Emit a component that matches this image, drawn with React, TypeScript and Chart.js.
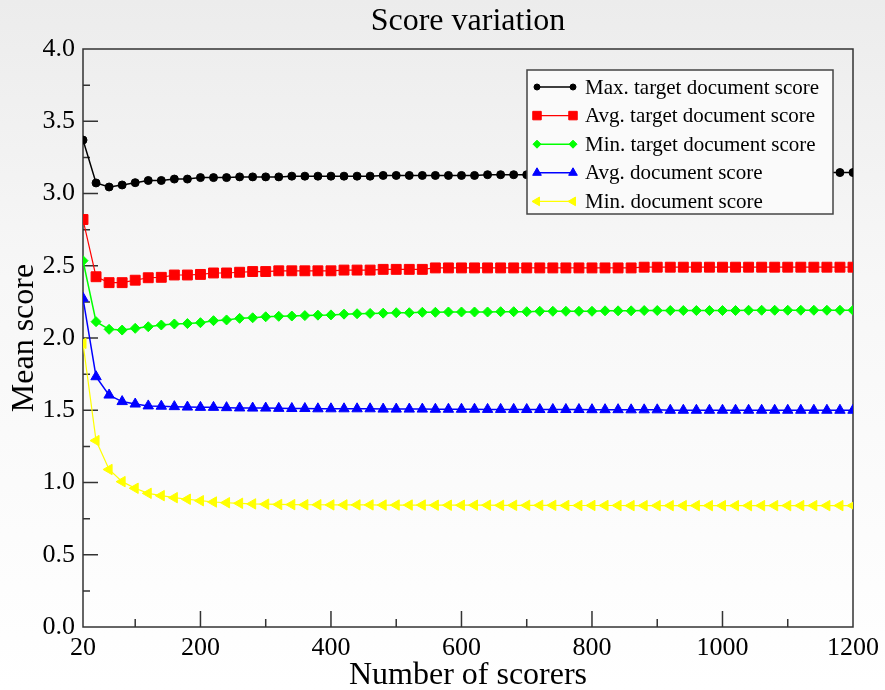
import React, { useEffect, useRef } from "react";
import { Chart, registerables } from "chart.js";
import { drawPoint } from "chart.js/helpers";

Chart.register(...registerables);

const FONT = "'Liberation Serif', 'Times New Roman', serif";

const scorers = [
  20, 40, 60, 80, 100, 120, 140, 160, 180, 200,
  220, 240, 260, 280, 300, 320, 340, 360, 380, 400,
  420, 440, 460, 480, 500, 520, 540, 560, 580, 600,
  620, 640, 660, 680, 700, 720, 740, 760, 780, 800,
  820, 840, 860, 880, 900, 920, 940, 960, 980, 1000,
  1020, 1040, 1060, 1080, 1100, 1120, 1140, 1160, 1180, 1200,
];

const maxTarget = [
  3.37, 3.073, 3.045, 3.059, 3.075, 3.09, 3.09, 3.1, 3.1, 3.11,
  3.11, 3.11, 3.115, 3.115, 3.115, 3.115, 3.12, 3.12, 3.12, 3.12,
  3.12, 3.12, 3.12, 3.125, 3.125, 3.125, 3.125, 3.125, 3.125, 3.125,
  3.125, 3.13, 3.13, 3.13, 3.13, 3.13, 3.13, 3.13, 3.13, 3.13,
  3.13, 3.13, 3.13, 3.135, 3.135, 3.135, 3.135, 3.135, 3.135, 3.135,
  3.14, 3.14, 3.14, 3.14, 3.14, 3.14, 3.14, 3.145, 3.145, 3.145,
];

const avgTarget = [
  2.82, 2.424, 2.383, 2.383, 2.4, 2.417, 2.42, 2.436, 2.436, 2.44,
  2.45, 2.45, 2.455, 2.46, 2.46, 2.465, 2.465, 2.465, 2.465, 2.465,
  2.47, 2.47, 2.47, 2.475, 2.475, 2.475, 2.475, 2.485, 2.485, 2.485,
  2.485, 2.485, 2.485, 2.485, 2.485, 2.485, 2.485, 2.485, 2.485, 2.485,
  2.485, 2.485, 2.485, 2.49, 2.49, 2.49, 2.49, 2.49, 2.49, 2.49,
  2.49, 2.49, 2.49, 2.49, 2.49, 2.49, 2.49, 2.49, 2.49, 2.49,
];

const minTarget = [
  2.535, 2.113, 2.06, 2.055, 2.067, 2.078, 2.09, 2.097, 2.1, 2.106,
  2.12, 2.125, 2.136, 2.14, 2.147, 2.15, 2.152, 2.155, 2.158, 2.16,
  2.165, 2.168, 2.17, 2.172, 2.175, 2.175, 2.178, 2.178, 2.18, 2.18,
  2.18, 2.18, 2.182, 2.182, 2.182, 2.185, 2.185, 2.185, 2.185, 2.185,
  2.188, 2.188, 2.188, 2.19, 2.19, 2.19, 2.19, 2.19, 2.19, 2.19,
  2.19, 2.192, 2.192, 2.192, 2.192, 2.192, 2.192, 2.192, 2.192, 2.192,
];

const avgDocument = [
  2.275, 1.732, 1.605, 1.56, 1.543, 1.53, 1.528, 1.525, 1.522, 1.52,
  1.52, 1.518, 1.516, 1.515, 1.515, 1.513, 1.512, 1.512, 1.51, 1.51,
  1.51, 1.51, 1.51, 1.508, 1.508, 1.508, 1.508, 1.507, 1.507, 1.507,
  1.507, 1.506, 1.506, 1.506, 1.505, 1.505, 1.505, 1.505, 1.505, 1.504,
  1.504, 1.504, 1.503, 1.503, 1.503, 1.5, 1.5, 1.5, 1.5, 1.5,
  1.5, 1.5, 1.5, 1.5, 1.5, 1.5, 1.5, 1.5, 1.5, 1.5,
];

const minDocument = [
  1.963, 1.29, 1.09, 1.006, 0.96, 0.925, 0.909, 0.895, 0.884, 0.874,
  0.865, 0.86, 0.856, 0.852, 0.85, 0.848, 0.847, 0.846, 0.846, 0.845,
  0.845, 0.845, 0.845, 0.844, 0.844, 0.844, 0.844, 0.843, 0.843, 0.843,
  0.843, 0.843, 0.842, 0.842, 0.842, 0.842, 0.842, 0.841, 0.841, 0.841,
  0.841, 0.841, 0.84, 0.84, 0.84, 0.84, 0.84, 0.84, 0.84, 0.84,
  0.84, 0.84, 0.84, 0.84, 0.84, 0.84, 0.84, 0.84, 0.84, 0.84,
];

const seriesLabels = [
  "Max. target document score",
  "Avg. target document score",
  "Min. target document score",
  "Avg. document score",
  "Min. document score",
];

const xMajorTicks = [20, 200, 400, 600, 800, 1000, 1200];
const xMinorTicks = [100, 300, 500, 700, 900, 1100];
const yMajorTicks = [0.5, 1.0, 1.5, 2.0, 2.5, 3.0, 3.5];
const yMinorTicks = [0.25, 0.75, 1.25, 1.75, 2.25, 2.75, 3.25, 3.75];

const styles = [
  { color: "#000000", pointStyle: "circle", radius: 4, rotation: 0, width: 1.5, legendRadius: 3 },
  { color: "#ff0000", pointStyle: "rect", radius: 7, rotation: 0, width: 1.2, legendRadius: 6 },
  { color: "#00ff00", pointStyle: "rectRot", radius: 5, rotation: 0, width: 1.5, legendRadius: 4 },
  { color: "#0000ff", pointStyle: "triangle", radius: 6, rotation: 0, width: 1.5, legendRadius: 5 },
  { color: "#ffff00", pointStyle: "triangle", radius: 6, rotation: -90, width: 1.2, legendRadius: 5 },
];

const frameAndTicks = {
  id: "frameAndTicks",
  beforeDatasetsDraw(chart: any) {
    const { ctx, chartArea: a, scales } = chart;
    const xs = scales.x;
    const ys = scales.y;
    ctx.save();
    ctx.strokeStyle = "#333333";
    ctx.lineWidth = 1.5;
    ctx.beginPath();
    for (const v of xMajorTicks) {
      if (v === xs.min || v === xs.max) continue;
      const px = xs.getPixelForValue(v);
      ctx.moveTo(px, a.bottom);
      ctx.lineTo(px, a.bottom - 16);
    }
    for (const v of xMinorTicks) {
      const px = xs.getPixelForValue(v);
      ctx.moveTo(px, a.bottom);
      ctx.lineTo(px, a.bottom - 8);
    }
    for (const v of yMajorTicks) {
      const py = ys.getPixelForValue(v);
      ctx.moveTo(a.left, py);
      ctx.lineTo(a.left + 15, py);
    }
    for (const v of yMinorTicks) {
      const py = ys.getPixelForValue(v);
      ctx.moveTo(a.left, py);
      ctx.lineTo(a.left + 7, py);
    }
    ctx.stroke();
    ctx.strokeRect(a.left, a.top, a.right - a.left, a.bottom - a.top);
    ctx.restore();
  },
};

const boxLegend = {
  id: "boxLegend",
  afterDatasetsDraw(chart: any) {
    const { ctx, chartArea: a } = chart;
    const boxW = 306;
    const boxH = 144;
    const bx = a.right - 20 - boxW;
    const by = a.top + 21;
    ctx.save();
    ctx.fillStyle = "#fafafa";
    ctx.fillRect(bx, by, boxW, boxH);
    ctx.strokeStyle = "#444444";
    ctx.lineWidth = 1.5;
    ctx.strokeRect(bx, by, boxW, boxH);
    chart.data.datasets.forEach((ds: any, i: number) => {
      const st = styles[i];
      const cy = by + 17 + i * 28.6;
      const x1 = bx + 10;
      const x2 = bx + 46;
      ctx.strokeStyle = st.color;
      ctx.lineWidth = st.width;
      ctx.beginPath();
      ctx.moveTo(x1, cy);
      ctx.lineTo(x2, cy);
      ctx.stroke();
      ctx.fillStyle = st.color;
      ctx.strokeStyle = st.color;
      ctx.lineWidth = 1;
      const opts = { pointStyle: st.pointStyle, radius: st.legendRadius, rotation: st.rotation, borderWidth: 1 };
      drawPoint(ctx, opts as any, x1, cy);
      drawPoint(ctx, opts as any, x2, cy);
      ctx.fillStyle = "#000000";
      ctx.font = `21px ${FONT}`;
      ctx.textBaseline = "middle";
      ctx.textAlign = "left";
      ctx.fillText(ds.label, bx + 58, cy + 1);
    });
    ctx.restore();
  },
};

export default function App() {
  const canvasRef = useRef<HTMLCanvasElement | null>(null);

  useEffect(() => {
    document.body.style.margin = "0";
    const canvas = canvasRef.current;
    if (!canvas) return;
    const allSeries = [maxTarget, avgTarget, minTarget, avgDocument, minDocument];
    const datasets = allSeries.map((vals, i) => {
      const st = styles[i];
      return {
        label: seriesLabels[i],
        data: scorers.map((x, k) => ({ x, y: vals[k] })),
        borderColor: st.color,
        backgroundColor: st.color,
        pointBackgroundColor: st.color,
        pointBorderColor: st.color,
        pointBorderWidth: 1,
        pointStyle: st.pointStyle,
        pointRadius: st.radius,
        pointRotation: st.rotation,
        borderWidth: st.width,
        tension: 0,
        fill: false,
        order: i,
      };
    });
    const chart = new Chart(canvas, {
      type: "line",
      data: { datasets } as any,
      plugins: [frameAndTicks, boxLegend],
      options: {
        responsive: false,
        maintainAspectRatio: false,
        animation: false,
        layout: { padding: { left: 0, right: 32, top: 0, bottom: 0 } },
        plugins: {
          legend: { display: false },
          tooltip: { enabled: false },
          title: {
            display: true,
            fullSize: false,
            text: "Score variation",
            color: "#000000",
            font: { family: FONT, size: 32, weight: "normal" },
            padding: { top: 2, bottom: 8.6 },
          },
        },
        scales: {
          x: {
            type: "linear",
            min: 20,
            max: 1200,
            afterBuildTicks: (s: any) => {
              s.ticks = xMajorTicks.map((v) => ({ value: v }));
            },
            afterFit: (s: any) => {
              s.height = 63;
            },
            ticks: {
              autoSkip: false,
              maxRotation: 0,
              color: "#000000",
              font: { family: FONT, size: 26 },
              padding: 6,
              callback: (v: any) => String(v),
            },
            grid: { display: false, drawTicks: false },
            border: { display: false },
            title: {
              display: true,
              text: "Number of scorers",
              color: "#000000",
              font: { family: FONT, size: 32, lineHeight: 0.9 },
              padding: 0,
            },
          },
          y: {
            type: "linear",
            min: 0,
            max: 4,
            afterFit: (s: any) => {
              s.width = 83;
            },
            ticks: {
              stepSize: 0.5,
              color: "#000000",
              font: { family: FONT, size: 26 },
              padding: 8,
              callback: (v: any) => Number(v).toFixed(1),
            },
            grid: { display: false, drawTicks: false },
            border: { display: false },
            title: {
              display: true,
              text: "Mean score",
              color: "#000000",
              font: { family: FONT, size: 32 },
              padding: { top: 5, bottom: 0 },
            },
          },
        },
      } as any,
    });
    return () => chart.destroy();
  }, []);

  return (
    <div
      style={{
        width: 885,
        height: 690,
        background: "linear-gradient(to bottom, #ececec 0%, #f7f7f7 40%, #ffffff 100%)",
      }}
    >
      <canvas ref={canvasRef} width={885} height={690} style={{ display: "block" }} />
    </div>
  );
}
